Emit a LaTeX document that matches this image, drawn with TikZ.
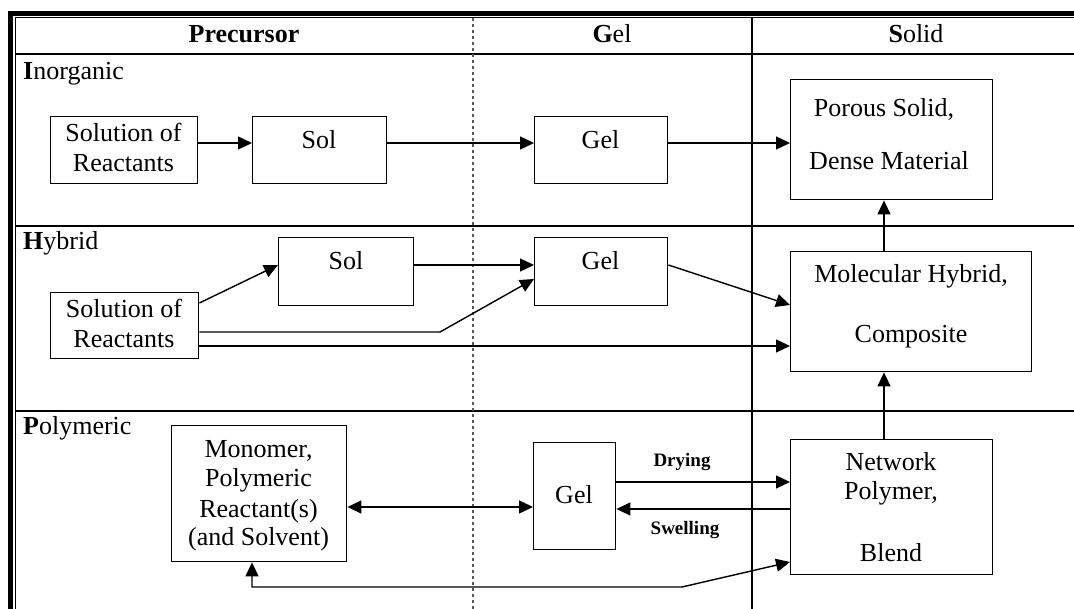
\documentclass[tikz,border=0pt]{standalone}
\usepackage{fontspec}
\setmainfont{Liberation Serif}
\usetikzlibrary{arrows.meta}
\begin{document}
\begin{tikzpicture}[x=1pt,y=-1pt,
  box/.style={draw, line width=1.4pt, inner sep=0pt, anchor=north west},
  txt/.style={anchor=base, inner sep=0pt, font=\fontsize{26}{30}\selectfont},
  lbl/.style={anchor=base, inner sep=0pt, font=\fontsize{19}{22}\selectfont\bfseries},
  arr/.style={line width=1.4pt, -{Triangle[length=14pt,width=13pt]}},
  darr/.style={line width=1.4pt, {Triangle[length=14pt,width=13pt]}-{Triangle[length=14pt,width=13pt]}},
  rulethin/.style={line width=1.5pt},
  rulethick/.style={line width=5pt},
  dotrule/.style={line width=1.5pt, gray!70!black, dash pattern=on 3pt off 3pt}]
\useasboundingbox (0,0) rectangle (1074,609);
% frame
\draw[rulethick] (10.5,609) -- (10.5,13.5) -- (1074,13.5);
\draw[rulethin] (15.5,609) -- (15.5,17.5) -- (1074,17.5);
\draw[rulethin] (15.5,54) -- (1074,54);
\draw[rulethin] (15.5,226) -- (1074,226);
\draw[rulethin] (15.5,411) -- (1074,411);
\draw[dotrule] (473,18) -- (473,609);
\draw[rulethin] (752,18) -- (752,609);
% header
\node[txt] (hp) at (244,43) {\textbf{Precursor}};
\node[txt] (hg) at (612,43) {\textbf{G}el};
\node[txt] (hs) at (916,43) {\textbf{S}olid};
\node[txt, anchor=base west] (ri) at (23,80) {\textbf{I}norganic};
\node[txt, anchor=base west] (rh) at (23,250) {\textbf{H}ybrid};
\node[txt, anchor=base west] (rp) at (23,435) {\textbf{P}olymeric};
% inorganic row
\node[box, minimum width=147pt, minimum height=67pt] (s1) at (50,116) {};
\node[txt] (s1a) at (123.5,142) {Solution of};
\node[txt] (s1b) at (123.5,172) {Reactants};
\node[box, minimum width=134pt, minimum height=67pt] (sol1) at (252,116) {};
\node[txt] (sol1t) at (319,149) {Sol};
\node[box, minimum width=133pt, minimum height=67pt] (gel1) at (534,116) {};
\node[txt] (gel1t) at (600.5,149) {Gel};
\node[box, minimum width=202pt, minimum height=120pt] (ps) at (790,79) {};
\node[txt] (psa) at (884,117) {Porous Solid,};
\node[txt] (psb) at (889,170) {Dense Material};
\draw[arr] (s1.east |- 0,143) -- (sol1.west |- 0,143);
\draw[arr] (sol1.east |- 0,143) -- (gel1.west |- 0,143);
\draw[arr] (gel1.east |- 0,143) -- (ps.west |- 0,143);
% hybrid row
\node[box, minimum width=148pt, minimum height=66pt] (s2) at (50,292) {};
\node[txt] (s2a) at (124,318) {Solution of};
\node[txt] (s2b) at (124,348) {Reactants};
\node[box, minimum width=135pt, minimum height=68pt] (sol2) at (278,237) {};
\node[txt] (sol2t) at (346,270) {Sol};
\node[box, minimum width=133pt, minimum height=68pt] (gel2) at (534,237) {};
\node[txt] (gel2t) at (600.5,270) {Gel};
\node[box, minimum width=241pt, minimum height=120pt] (mh) at (790,251) {};
\node[txt] (mha) at (911,283) {Molecular Hybrid,};
\node[txt] (mhb) at (911,343) {Composite};
\coordinate (bend1) at (440,332);
\draw[arr] (s2.east |- 0,303) -- (sol2.west |- 0,265);
\draw[arr] (sol2.east |- 0,265) -- (gel2.west |- 0,265);
\draw[arr] (s2.east |- 0,332) -- (bend1) -- (gel2.west |- 0,279);
\draw[arr] (s2.east |- 0,346) -- (mh.west |- 0,346);
\draw[arr] (gel2.east |- 0,265) -- (mh.west |- 0,305);
\draw[arr] (mh.north -| 884,0) -- (ps.south -| 884,0);
% polymeric row
\node[box, minimum width=175pt, minimum height=136pt] (mono) at (171,425) {};
\node[txt] (monoa) at (258.5,457) {Monomer,};
\node[txt] (monob) at (258.5,486) {Polymeric};
\node[txt] (monoc) at (258.5,517) {Reactant(s)};
\node[txt] (monod) at (258.5,545) {(and Solvent)};
\node[box, minimum width=82pt, minimum height=107pt] (gel3) at (533,442) {};
\node[txt] (gel3t) at (574,503) {Gel};
\node[box, minimum width=202pt, minimum height=135pt] (np) at (790,439) {};
\node[txt] (npa) at (891,471) {Network};
\node[txt] (npb) at (891,500) {Polymer,};
\node[txt] (npc) at (891,561) {Blend};
\draw[darr] (mono.east |- 0,507) -- (gel3.west |- 0,507);
\draw[arr] (gel3.east |- 0,482) -- (np.west |- 0,482);
\draw[arr] (np.west |- 0,509) -- (gel3.east |- 0,509);
\node[lbl] (dry) at (682,467) {Drying};
\node[lbl] (swl) at (685,534) {Swelling};
\coordinate (b2) at (682,587);
\coordinate (b3) at (252,587);
\draw[darr] (np.west |- 0,562) -- (b2) -- (b3) -- (mono.south -| 252,0);
\draw[arr] (np.north -| 884,0) -- (mh.south -| 884,0);
\end{tikzpicture}
\end{document}
